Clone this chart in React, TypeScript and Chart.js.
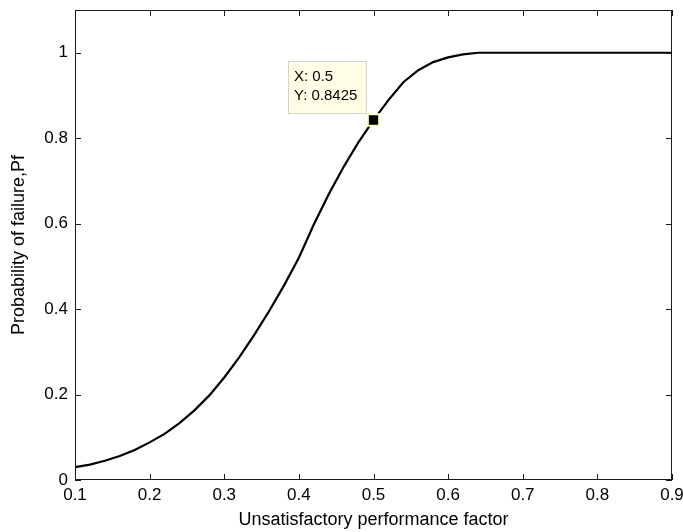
import { useEffect, useRef } from 'react';
import { Chart, registerables } from 'chart.js';

Chart.register(...registerables);

const xValues = [
  0.1, 0.12, 0.14, 0.16, 0.18, 0.2, 0.22, 0.24, 0.26, 0.28,
  0.3, 0.32, 0.34, 0.36, 0.38, 0.4, 0.42, 0.44, 0.46, 0.48,
  0.5, 0.52, 0.54, 0.56, 0.58, 0.6, 0.62, 0.64, 0.66, 0.68,
  0.7, 0.72, 0.74, 0.76, 0.78, 0.8, 0.82, 0.84, 0.86, 0.88, 0.9,
];
const pfValues = [
  0.03, 0.036, 0.045, 0.056, 0.07, 0.088, 0.108, 0.133, 0.163, 0.198,
  0.24, 0.287, 0.339, 0.395, 0.455, 0.52, 0.598, 0.669, 0.733, 0.791,
  0.8425, 0.889, 0.931, 0.959, 0.978, 0.989, 0.996, 1.0, 1.0, 1.0,
  1.0, 1.0, 1.0, 1.0, 1.0, 1.0, 1.0, 1.0, 1.0, 1.0, 1.0,
];
const xTicks = [0.1, 0.2, 0.3, 0.4, 0.5, 0.6, 0.7, 0.8, 0.9];
const yTicks = [0, 0.2, 0.4, 0.6, 0.8, 1];
const tipX = 0.5;
const tipY = 0.8425;
const tipLines = ['X: 0.5', 'Y: 0.8425'];
const xTitle = 'Unsatisfactory performance factor';
const yTitle = 'Probability of failure,Pf';

const FONT = 'Liberation Sans, Arial, sans-serif';
const AXIS_COLOR = '#1a1a1a';

const boxPlugin = {
  id: 'matlabBox',
  afterDatasetsDraw(chart: any) {
    const { ctx, chartArea: a, scales } = chart;
    const xs = scales.x;
    const ys = scales.y;
    ctx.save();
    ctx.strokeStyle = AXIS_COLOR;
    ctx.lineWidth = 1;
    ctx.strokeRect(a.left + 0.5, a.top + 0.5, a.right - a.left - 1, a.bottom - a.top - 1);
    const tl = 6;
    ctx.beginPath();
    for (const v of xTicks) {
      const p = Math.round(xs.getPixelForValue(v)) + 0.5;
      ctx.moveTo(p, a.bottom);
      ctx.lineTo(p, a.bottom - tl);
      ctx.moveTo(p, a.top);
      ctx.lineTo(p, a.top + tl);
    }
    for (const v of yTicks) {
      const p = Math.round(ys.getPixelForValue(v)) + 0.5;
      ctx.moveTo(a.left, p);
      ctx.lineTo(a.left + tl, p);
      ctx.moveTo(a.right, p);
      ctx.lineTo(a.right - tl, p);
    }
    ctx.stroke();

    // data tip
    const px = xs.getPixelForValue(tipX);
    const py = ys.getPixelForValue(tipY);
    const w = 79;
    const h = 53;
    const right = Math.round(px - 7);
    const bottom = Math.round(py - 6);
    const left = right - w;
    const top = bottom - h;
    ctx.fillStyle = '#ffffe6';
    ctx.fillRect(left, top, w, h);
    ctx.strokeStyle = '#d2d2d2';
    ctx.lineWidth = 1;
    ctx.strokeRect(left + 0.5, top + 0.5, w - 1, h - 1);
    ctx.fillStyle = '#000';
    ctx.font = `15px ${FONT}`;
    ctx.textBaseline = 'middle';
    ctx.textAlign = 'left';
    ctx.fillText(tipLines[0], left + 6, top + 16);
    ctx.fillText(tipLines[1], left + 6, top + 35);
    ctx.restore();
  },
};

function zeroPadding(s: any) {
  s.paddingTop = 0;
  s.paddingBottom = 0;
  s.paddingLeft = 0;
  s.paddingRight = 0;
}

export default function App() {
  const ref = useRef<HTMLCanvasElement | null>(null);
  useEffect(() => {
    if (!ref.current) return;
    const chart = new Chart(ref.current, {
      type: 'scatter',
      data: {
        datasets: [
          {
            data: xValues.map((x, i) => ({ x, y: pfValues[i] })),
            showLine: true,
            borderColor: '#000',
            borderWidth: 2.2,
            pointRadius: 0,
            tension: 0,
            fill: false,
            order: 2,
          },
          {
            data: [{ x: tipX, y: tipY }],
            showLine: false,
            pointStyle: 'rect',
            pointRadius: 8,
            pointBackgroundColor: '#000',
            pointBorderColor: '#ffffd2',
            pointBorderWidth: 2,
            order: 1,
          },
        ],
      },
      options: {
        responsive: false,
        animation: false,
        events: [],
        layout: { padding: { top: 8, right: 11, left: 0, bottom: 0 } },
        plugins: { legend: { display: false }, tooltip: { enabled: false } },
        scales: {
          x: {
            type: 'linear',
            min: 0.1,
            max: 0.9,
            afterBuildTicks: (s: any) => {
              s.ticks = xTicks.map((v) => ({ value: v }));
            },
            afterFit: (s: any) => {
              s.height = 52;
              zeroPadding(s);
            },
            grid: { display: false, drawTicks: false },
            border: { display: false },
            ticks: {
              padding: 5,
              color: '#000',
              font: { family: FONT, size: 17 },
              maxRotation: 0,
              autoSkip: false,
              callback: (v: any) => String(+Number(v).toFixed(2)),
            },
            title: {
              display: true,
              text: xTitle,
              color: '#000',
              font: { family: FONT, size: 18 },
              padding: { top: 0, bottom: 1 },
            },
          },
          y: {
            type: 'linear',
            min: 0,
            max: 1.1,
            afterBuildTicks: (s: any) => {
              s.ticks = yTicks.map((v) => ({ value: v }));
            },
            afterFit: (s: any) => {
              s.width = 75;
              zeroPadding(s);
            },
            grid: { display: false, drawTicks: false },
            border: { display: false },
            ticks: {
              padding: 7,
              color: '#000',
              font: { family: FONT, size: 17 },
              autoSkip: false,
              callback: (v: any) => String(+Number(v).toFixed(2)),
            },
            title: {
              display: true,
              text: yTitle,
              color: '#000',
              font: { family: FONT, size: 18 },
              padding: { top: 8, bottom: 0 },
            },
          },
        },
      },
      plugins: [boxPlugin],
    });
    return () => chart.destroy();
  }, []);
  return (
    <div style={{ position: 'absolute', left: 0, top: 0, width: 683, height: 532, background: '#fff' }}>
      <canvas ref={ref} width={683} height={532} style={{ display: 'block', width: 683, height: 532 }} />
    </div>
  );
}
